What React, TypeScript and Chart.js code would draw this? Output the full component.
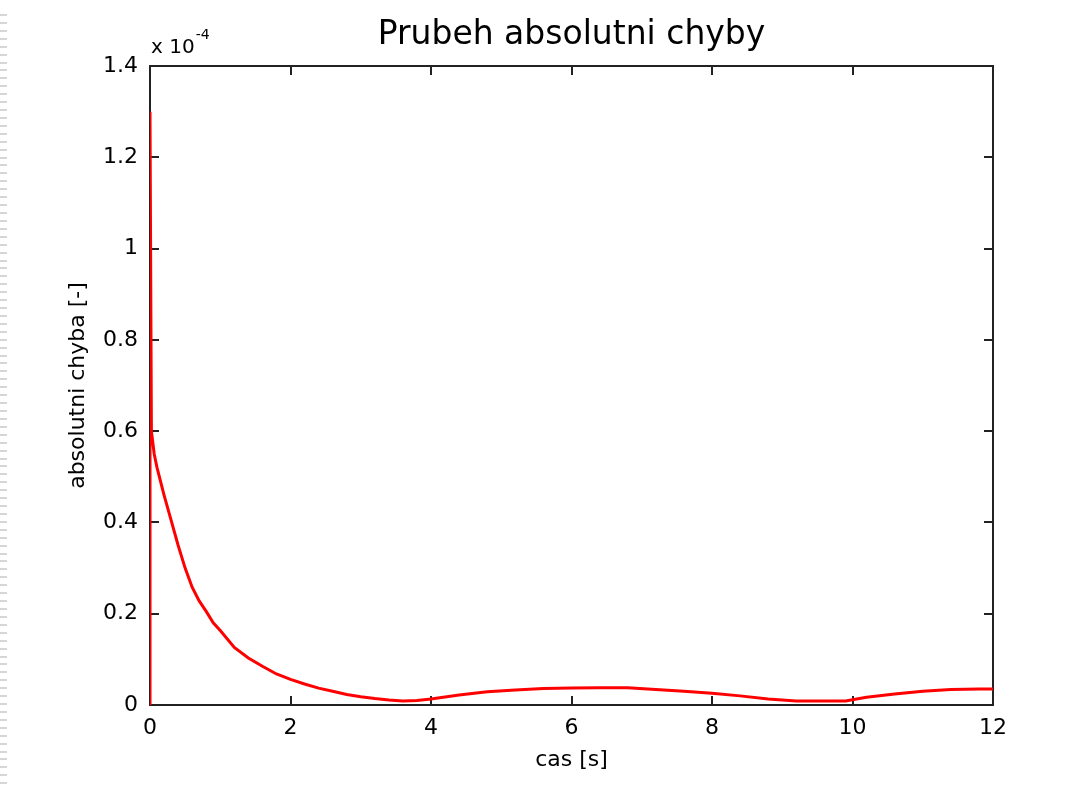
import { useEffect, useRef } from "react";
import { Chart, registerables } from "chart.js";

Chart.register(...registerables);

const TITLE = "Prubeh absolutni chyby";
const X_LABEL = "cas [s]";
const Y_LABEL = "absolutni chyba [-]";
const Y_MULTIPLIER = "x 10";
const Y_EXPONENT = "-4";

// time [s]
const timeS = [
  0, 0, 0.02, 0.06, 0.1, 0.2, 0.3, 0.4, 0.5, 0.6, 0.7, 0.8, 0.9, 1.0, 1.2, 1.4,
  1.6, 1.8, 2.0, 2.2, 2.4, 2.6, 2.8, 3.0, 3.2, 3.4, 3.6, 3.8, 4.0, 4.4, 4.8,
  5.2, 5.6, 6.0, 6.4, 6.8, 7.2, 7.6, 8.0, 8.4, 8.8, 9.2, 9.6, 9.9, 10.2, 10.6,
  11.0, 11.4, 11.8, 12.0,
];

// absolute error, in units of 1e-4
const absError = [
  0, 1.3, 0.6, 0.55, 0.52, 0.46, 0.405, 0.35, 0.3, 0.258, 0.228, 0.205, 0.18,
  0.163, 0.126, 0.103, 0.085, 0.068, 0.056, 0.046, 0.037, 0.03, 0.023, 0.018,
  0.014, 0.011, 0.009, 0.01, 0.013, 0.022, 0.029, 0.033, 0.036, 0.037, 0.038,
  0.038, 0.034, 0.03, 0.026, 0.02, 0.013, 0.009, 0.009, 0.009, 0.017, 0.024,
  0.03, 0.034, 0.035, 0.035,
];

const xTickLabels = ["0", "2", "4", "6", "8", "10", "12"];
const yTickLabels = ["0", "0.2", "0.4", "0.6", "0.8", "1", "1.2", "1.4"];

const FONT = "'DejaVu Sans', 'Liberation Sans', sans-serif";
const AXIS_COLOR = "#222222";
const TICK_LEN = 9;

const framePlugin = {
  id: "matlabFrame",
  beforeDatasetsDraw(chart: any) {
    const { ctx, chartArea: a, scales } = chart;
    ctx.save();
    ctx.strokeStyle = AXIS_COLOR;
    ctx.lineWidth = 2;
    ctx.strokeRect(a.left, a.top, a.right - a.left, a.bottom - a.top);
    ctx.beginPath();
    scales.x.ticks.forEach((t: any) => {
      const px = Math.round(scales.x.getPixelForValue(t.value));
      ctx.moveTo(px, a.bottom);
      ctx.lineTo(px, a.bottom - TICK_LEN);
      ctx.moveTo(px, a.top);
      ctx.lineTo(px, a.top + TICK_LEN);
    });
    scales.y.ticks.forEach((t: any) => {
      const py = Math.round(scales.y.getPixelForValue(t.value));
      ctx.moveTo(a.left, py);
      ctx.lineTo(a.left + TICK_LEN, py);
      ctx.moveTo(a.right, py);
      ctx.lineTo(a.right - TICK_LEN, py);
    });
    ctx.stroke();
    ctx.restore();
  },
  afterDraw(chart: any) {
    const { ctx, chartArea: a } = chart;
    ctx.save();
    // title
    ctx.fillStyle = "#000";
    ctx.font = `33px ${FONT}`;
    ctx.textAlign = "center";
    ctx.textBaseline = "alphabetic";
    ctx.fillText(TITLE, (a.left + a.right) / 2, 44);
    // exponent of the y axis
    ctx.textAlign = "left";
    ctx.font = `20px ${FONT}`;
    ctx.fillText(Y_MULTIPLIER, a.left + 1, 53);
    const w = ctx.measureText(Y_MULTIPLIER).width;
    ctx.font = `14px ${FONT}`;
    ctx.fillText(Y_EXPONENT, a.left + 1 + w + 1, 39);
    // dashed page edge on the left
    ctx.strokeStyle = "#d6d6d6";
    ctx.lineWidth = 2;
    ctx.beginPath();
    for (let y = 15; y < 786; y += 7.92) {
      const yy = Math.round(y);
      ctx.moveTo(0, yy);
      ctx.lineTo(7, yy);
    }
    ctx.stroke();
    ctx.restore();
  },
};

export default function App() {
  const canvasRef = useRef<HTMLCanvasElement>(null);

  useEffect(() => {
    if (!canvasRef.current) return;
    const points = timeS.map((t, i) => ({ x: t, y: absError[i] }));
    const chart = new Chart(canvasRef.current, {
      type: "line",
      data: {
        datasets: [
          {
            data: points,
            borderColor: "#ff0000",
            borderWidth: 3,
            pointRadius: 0,
            tension: 0,
            fill: false,
          },
        ],
      },
      plugins: [framePlugin],
      options: {
        animation: false,
        responsive: false,
        events: [],
        layout: { padding: { left: 0, top: 66, right: 87, bottom: 0 } },
        plugins: {
          legend: { display: false },
          tooltip: { enabled: false },
          title: { display: false },
        },
        scales: {
          x: {
            type: "linear",
            min: 0,
            max: 12,
            afterFit: (scale: any) => {
              scale.height = 81;
            },
            ticks: {
              stepSize: 2,
              padding: 10,
              color: "#000",
              font: { family: FONT, size: 22 },
              maxRotation: 0,
              callback: (_v: any, i: number) => xTickLabels[i],
            },
            grid: { display: false, drawTicks: false },
            border: { display: false },
            title: {
              display: true,
              text: X_LABEL,
              color: "#000",
              font: { family: FONT, size: 22 },
              padding: { top: 0, bottom: 13 },
            },
          },
          y: {
            type: "linear",
            min: 0,
            max: 1.4,
            afterFit: (scale: any) => {
              scale.width = 150;
            },
            ticks: {
              stepSize: 0.2,
              padding: 12,
              color: "#000",
              font: { family: FONT, size: 22 },
              callback: (_v: any, i: number) => yTickLabels[i],
            },
            grid: { display: false, drawTicks: false },
            border: { display: false },
            title: {
              display: true,
              text: Y_LABEL,
              color: "#000",
              font: { family: FONT, size: 22 },
              padding: { top: 65, bottom: 0 },
            },
          },
        },
      },
    });
    return () => chart.destroy();
  }, []);

  return (
    <div
      style={{
        position: "fixed",
        left: 0,
        top: 0,
        width: 1080,
        height: 786,
        background: "#fff",
      }}
    >
      <canvas
        ref={canvasRef}
        width={1080}
        height={786}
        style={{ display: "block" }}
      />
    </div>
  );
}
